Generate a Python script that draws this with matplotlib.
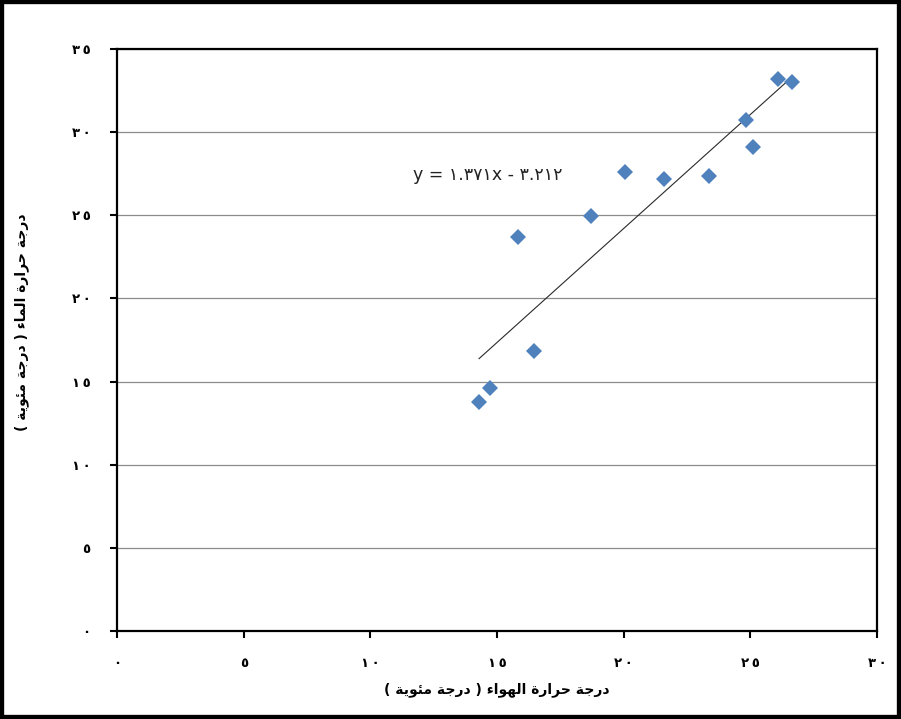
import matplotlib
matplotlib.use("Agg")
import matplotlib.pyplot as plt
from matplotlib.patches import Rectangle
import numpy as np

# ---- data -------------------------------------------------------------
air_temp = [14.29, 14.72, 15.83, 16.46, 18.71, 20.05, 21.59, 23.37, 24.83, 25.09, 26.10, 26.63]
water_temp = [13.79, 14.60, 23.69, 16.84, 24.96, 27.60, 27.18, 27.36, 30.73, 29.12, 33.18, 33.03]
slope = 1.371
intercept = -3.212
x_ticks = [0, 5, 10, 15, 20, 25, 30]
y_ticks = [0, 5, 10, 15, 20, 25, 30, 35]
x_label = "درجة حرارة الهواء ( درجة مئوية )"
y_label = "درجة حرارة الماء ( درجة مئوية )"

# ---- minimal Arabic shaping (contextual forms + visual order) ----------
# letter: (isolated, final, initial, medial); None means no such form
FORMS = {
    "ا": ("\uFE8D", "\uFE8E", None, None),
    "ة": ("\uFE93", "\uFE94", None, None),
    "ج": ("\uFE9D", "\uFE9E", "\uFE9F", "\uFEA0"),
    "ح": ("\uFEA1", "\uFEA2", "\uFEA3", "\uFEA4"),
    "د": ("\uFEA9", "\uFEAA", None, None),
    "ر": ("\uFEAD", "\uFEAE", None, None),
    "ل": ("\uFEDD", "\uFEDE", "\uFEDF", "\uFEE0"),
    "م": ("\uFEE1", "\uFEE2", "\uFEE3", "\uFEE4"),
    "ن": ("\uFEE5", "\uFEE6", "\uFEE7", "\uFEE8"),
    "ه": ("\uFEE9", "\uFEEA", "\uFEEB", "\uFEEC"),
    "و": ("\uFEED", "\uFEEE", None, None),
    "ي": ("\uFEF1", "\uFEF2", "\uFEF3", "\uFEF4"),
    "ئ": ("\uFE89", "\uFE8A", "\uFE8B", "\uFE8C"),
    "ء": ("\uFE80", None, None, None),
}


def dual(c):
    return c in FORMS and FORMS[c][2] is not None


def joining(c):
    return c in FORMS and FORMS[c][1] is not None


def shape(text):
    out = []
    for i, c in enumerate(text):
        if c not in FORMS:
            out.append(c)
            continue
        prev_c = text[i - 1] if i > 0 else ""
        next_c = text[i + 1] if i + 1 < len(text) else ""
        jp = dual(prev_c) and joining(c)
        jn = dual(c) and joining(next_c)
        iso, fin, ini, med = FORMS[c]
        if jp and jn:
            out.append(med)
        elif jp:
            out.append(fin)
        elif jn:
            out.append(ini)
        else:
            out.append(iso)
    mirror = {"(": ")", ")": "("}
    return "".join(mirror.get(c, c) for c in reversed(out))


DIGITS = "٠١٢٣٤٥٦٧٨٩"


def tick_text(n):
    # digits set slightly apart, as on the printed axis
    return "\u2009".join(DIGITS[int(d)] for d in str(n))


def arabic_num(v):
    s = f"{v:.3f}"
    return "".join(DIGITS[int(ch)] if ch.isdigit() else ch for ch in s)


# ---- figure -----------------------------------------------------------
plt.rcParams["font.family"] = ["DejaVu Sans"]
fig = plt.figure(figsize=(9.01, 7.19), dpi=100)
fig.patch.set_facecolor("white")
ax = fig.add_axes([0.1299, 0.1224, 0.8435, 0.8094])

ax.set_xlim(0, 30)
ax.set_ylim(0, 35)

ax.grid(axis="y", color="#8c8c8c", linewidth=0.9)
ax.set_axisbelow(True)

ax.plot(air_temp, water_temp, linestyle="none", marker="D", markersize=8.6,
        color="#4F81BD", markeredgewidth=0, zorder=3)

xt = np.array([min(air_temp), max(air_temp)])
ax.plot(xt, slope * xt + intercept, color="#2a2a2a", linewidth=0.8, zorder=2)

eq = f"y = {arabic_num(slope)}x - {arabic_num(-intercept)}"
ax.text(11.7, 27.42, eq, fontsize=12.5, ha="left", va="center", color="#222222")

ax.set_xticks(x_ticks)
ax.set_xticklabels([tick_text(t) for t in x_ticks], fontweight="bold", fontsize=9.5)
ax.set_yticks(y_ticks)
ax.set_yticklabels([tick_text(t) for t in y_ticks], fontweight="bold", fontsize=9.5)
ax.tick_params(axis="both", direction="out", length=5, width=1.5, color="black")
ax.tick_params(axis="x", pad=14)
ax.tick_params(axis="y", pad=14)

for sp in ax.spines.values():
    sp.set_linewidth(1.6)
    sp.set_color("black")

ax.set_xlabel(shape(x_label), fontsize=10, fontweight="bold", va="center")
ax.xaxis.set_label_coords(0.5, -0.101)
ax.set_ylabel(shape(y_label), fontsize=10, fontweight="bold", va="center", rotation=90)
ax.yaxis.set_label_coords(-0.125, 0.531)

fig.patches.append(Rectangle((0, 0), 1, 1, transform=fig.transFigure,
                             fill=False, edgecolor="black", linewidth=6))

fig.savefig("out.png", dpi=100)
